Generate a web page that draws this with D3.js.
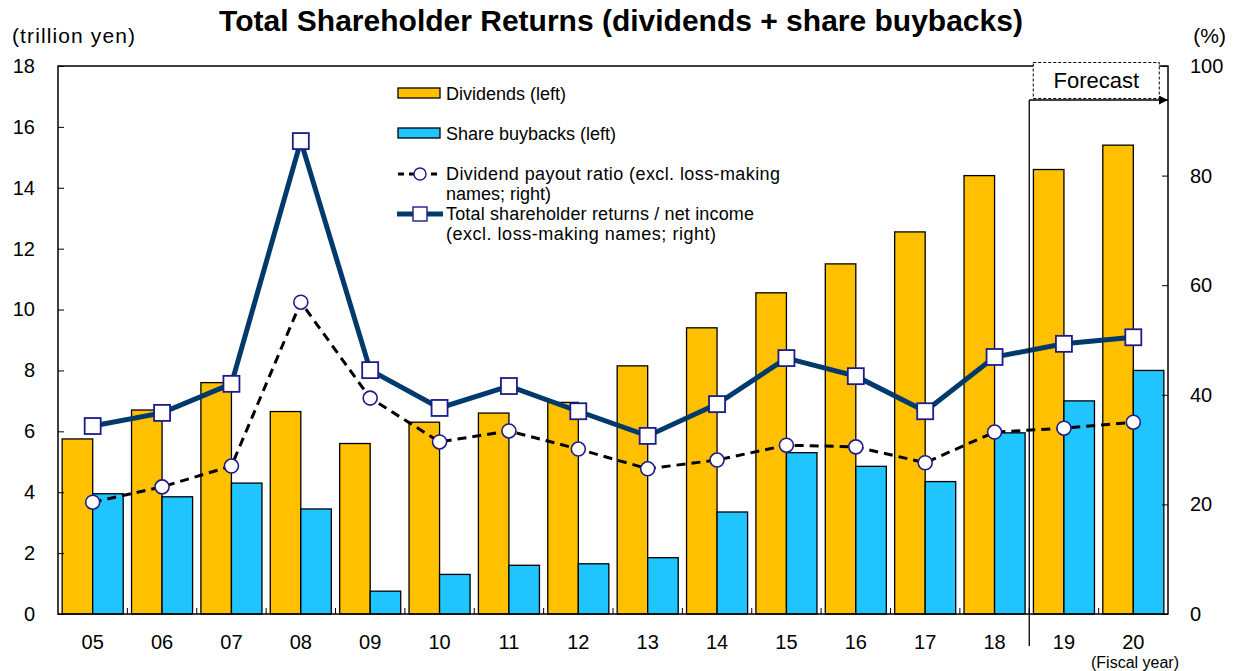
<!DOCTYPE html>
<html lang="en">
<head>
<meta charset="UTF-8">
<title>Total Shareholder Returns</title>
<script src="https://d3js.org/d3.v7.min.js"></script>
<style>
  body { margin: 0; background: #fff; }
  svg { font-family: "Liberation Sans", Arial, sans-serif; }
</style>
</head>
<body>
<div id="chart"></div>
<script>
// data
const years = ["05","06","07","08","09","10","11","12","13","14","15","16","17","18","19","20"];
const dividends = [5.75, 6.7, 7.6, 6.65, 5.6, 6.3, 6.6, 6.95, 8.15, 9.4, 10.55, 11.5, 12.55, 14.4, 14.6, 15.4];
const buybacks = [3.95, 3.85, 4.3, 3.45, 0.75, 1.3, 1.6, 1.65, 1.85, 3.35, 5.3, 4.85, 4.35, 5.95, 7.0, 8.0];
const payoutRatio = [20.4, 23.2, 27.0, 56.9, 39.4, 31.4, 33.4, 30.1, 26.5, 28.1, 30.8, 30.5, 27.6, 33.2, 33.9, 35.0];
const returnRatio = [34.3, 36.7, 42.0, 86.3, 44.5, 37.6, 41.6, 37.0, 32.5, 38.3, 46.7, 43.4, 37.0, 46.9, 49.3, 50.5];
const leftTicks = [0, 2, 4, 6, 8, 10, 12, 14, 16, 18];
const rightTicks = [0, 20, 40, 60, 80, 100];

const W = 1233, H = 671;
const margin = { top: 66, right: 65, bottom: 57, left: 58 };
const iw = W - margin.left - margin.right;
const ih = H - margin.top - margin.bottom;

const svg = d3.select('#chart').append('svg')
  .attr('width', W).attr('height', H);

const g = svg.append('g')
  .attr('transform', `translate(${margin.left},${margin.top})`);

const x = d3.scaleBand().domain(years).range([0, iw]).paddingInner(0.12).paddingOuter(0.06);
const xo = d3.scaleBand().domain(years).range([0, iw]);
const yL = d3.scaleLinear().domain([0, 18]).range([ih, 0]);
const yR = d3.scaleLinear().domain([0, 100]).range([ih, 0]);
const half = x.bandwidth() / 2;

// bars
g.selectAll('.div').data(years).enter().append('rect')
  .attr('x', d => x(d))
  .attr('y', (d, i) => yL(dividends[i]))
  .attr('width', half)
  .attr('height', (d, i) => ih - yL(dividends[i]))
  .attr('fill', '#FFC000').attr('stroke', '#000').attr('stroke-width', 1.3);

g.selectAll('.bb').data(years).enter().append('rect')
  .attr('x', d => x(d) + half)
  .attr('y', (d, i) => yL(buybacks[i]))
  .attr('width', half)
  .attr('height', (d, i) => ih - yL(buybacks[i]))
  .attr('fill', '#20C4FF').attr('stroke', '#000').attr('stroke-width', 1.3);

// plot frame
g.append('rect').attr('width', iw).attr('height', ih)
  .attr('fill', 'none').attr('stroke', '#000').attr('stroke-width', 1.5);

// axes
const axL = g.append('g').call(d3.axisLeft(yL).tickValues(leftTicks).tickSize(-6).tickPadding(23));
const axR = g.append('g').attr('transform', `translate(${iw},0)`)
  .call(d3.axisRight(yR).tickValues(rightTicks).tickSize(-6).tickPadding(22));
[axL, axR].forEach(a => {
  a.select('.domain').remove();
  a.selectAll('text').attr('font-size', 20).attr('fill', '#000')
    .attr('font-family', '"Liberation Sans", Arial, sans-serif');
});
axL.selectAll('text').attr('text-anchor', 'end');
axR.selectAll('text').attr('text-anchor', 'start');

const axB = g.append('g').attr('transform', `translate(0,${ih})`)
  .call(d3.axisBottom(x).tickSize(0).tickPadding(21));
axB.select('.domain').remove();
axB.selectAll('text').attr('font-size', 20).attr('fill', '#000')
  .attr('font-family', '"Liberation Sans", Arial, sans-serif');

// small category boundary ticks
g.selectAll('.bt').data(years.slice(1)).enter().append('line')
  .attr('x1', d => xo(d)).attr('x2', d => xo(d))
  .attr('y1', ih).attr('y2', ih - 6)
  .attr('stroke', '#000').attr('stroke-width', 1);

// lines
const cx = d => x(d) + half;
const lineR = (arr) => d3.line().x(d => cx(d)).y((d, i) => yR(arr[i]));

g.append('path').datum(years)
  .attr('d', lineR(payoutRatio))
  .attr('fill', 'none').attr('stroke', '#000').attr('stroke-width', 3)
  .attr('stroke-dasharray', '9,6');

g.append('path').datum(years)
  .attr('d', lineR(returnRatio))
  .attr('fill', 'none').attr('stroke', '#003A6C').attr('stroke-width', 5);

g.selectAll('.pc').data(years).enter().append('circle')
  .attr('cx', d => cx(d)).attr('cy', (d, i) => yR(payoutRatio[i]))
  .attr('r', 7).attr('fill', '#fff').attr('stroke', '#1C1C8C').attr('stroke-width', 1.6);

g.selectAll('.rs').data(years).enter().append('rect')
  .attr('x', d => cx(d) - 8).attr('y', (d, i) => yR(returnRatio[i]) - 8)
  .attr('width', 16).attr('height', 16)
  .attr('fill', '#fff').attr('stroke', '#1C1C8C').attr('stroke-width', 1.8);

// forecast marker
const fx = xo('19');
g.append('line').attr('x1', fx).attr('x2', fx).attr('y1', 34).attr('y2', ih + 32)
  .attr('stroke', '#000').attr('stroke-width', 1.3);
svg.append('defs').append('marker').attr('id', 'arr')
  .attr('viewBox', '0 0 10 10').attr('refX', 10).attr('refY', 5)
  .attr('markerWidth', 6).attr('markerHeight', 6).attr('orient', 'auto')
  .append('path').attr('d', 'M0,0L10,5L0,10Z').attr('fill', '#000');
g.append('line').attr('x1', fx).attr('x2', iw).attr('y1', 34).attr('y2', 34)
  .attr('stroke', '#000').attr('stroke-width', 1.5).attr('marker-end', 'url(#arr)');
g.append('rect').attr('x', fx + 4).attr('y', -3.5).attr('width', 126).attr('height', 36)
  .attr('fill', '#fff').attr('stroke', '#000').attr('stroke-width', 1)
  .attr('stroke-dasharray', '3,2');
g.append('text').attr('x', fx + 67).attr('y', 22).attr('text-anchor', 'middle')
  .attr('font-size', 22).text('Forecast');

// legend
const lg = svg.append('g').attr('font-size', 18);
lg.append('rect').attr('x', 398).attr('y', 88).attr('width', 42).attr('height', 10)
  .attr('fill', '#FFC000').attr('stroke', '#000').attr('stroke-width', 1.3);
lg.append('text').attr('x', 446).attr('y', 100).text('Dividends (left)');
lg.append('rect').attr('x', 398).attr('y', 128).attr('width', 42).attr('height', 10)
  .attr('fill', '#20C4FF').attr('stroke', '#000').attr('stroke-width', 1.3);
lg.append('text').attr('x', 446).attr('y', 140).text('Share buybacks (left)');
lg.append('line').attr('x1', 398).attr('x2', 442).attr('y1', 174).attr('y2', 174)
  .attr('stroke', '#000').attr('stroke-width', 3).attr('stroke-dasharray', '6,5');
lg.append('circle').attr('cx', 420).attr('cy', 174).attr('r', 6)
  .attr('fill', '#fff').attr('stroke', '#1C1C8C').attr('stroke-width', 1.4);
lg.append('text').attr('x', 446).attr('y', 180).attr('textLength', 334)
  .text('Dividend payout ratio (excl. loss-making');
lg.append('text').attr('x', 446).attr('y', 200).text('names; right)');
lg.append('line').attr('x1', 397).attr('x2', 443).attr('y1', 214).attr('y2', 214)
  .attr('stroke', '#003A6C').attr('stroke-width', 5);
lg.append('rect').attr('x', 413).attr('y', 207).attr('width', 14).attr('height', 14)
  .attr('fill', '#fff').attr('stroke', '#1C1C8C').attr('stroke-width', 1.4);
lg.append('text').attr('x', 446).attr('y', 220).attr('textLength', 308)
  .text('Total shareholder returns / net income');
lg.append('text').attr('x', 446).attr('y', 240).attr('textLength', 270)
  .text('(excl. loss-making names; right)');

// titles
svg.append('text').attr('x', 621).attr('y', 31).attr('text-anchor', 'middle')
  .attr('font-size', 30).attr('font-weight', 'bold')
  .text('Total Shareholder Returns (dividends + share buybacks)');
svg.append('text').attr('x', 12).attr('y', 43).attr('font-size', 21)
  .attr('textLength', 123).text('(trillion yen)');
svg.append('text').attr('x', 1226).attr('y', 43).attr('text-anchor', 'end')
  .attr('font-size', 21).text('(%)');
svg.append('text').attr('x', 1179).attr('y', 668).attr('text-anchor', 'end')
  .attr('font-size', 16).text('(Fiscal year)');
</script>
</body>
</html>
